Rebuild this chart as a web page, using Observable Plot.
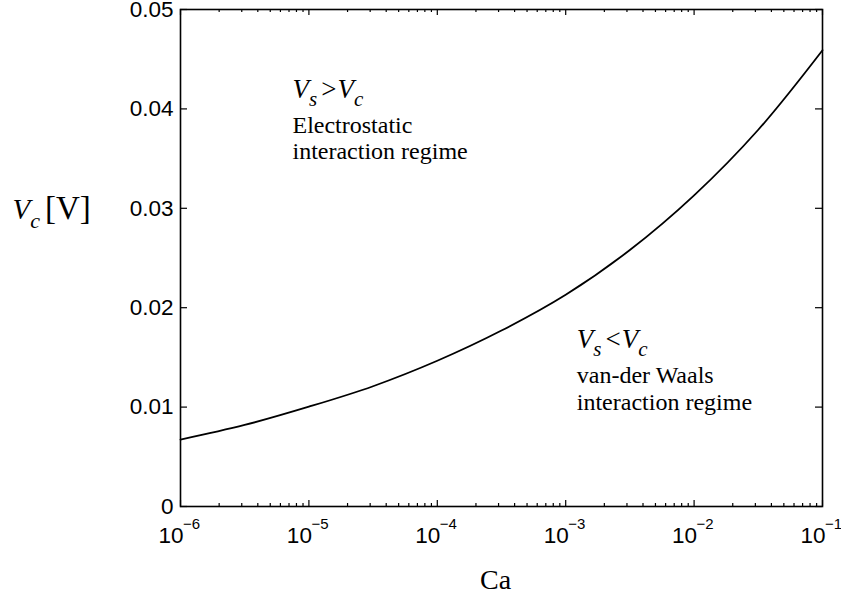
<!DOCTYPE html>
<html><head><meta charset="utf-8">
<script src="https://cdn.jsdelivr.net/npm/d3@7"></script>
<script src="https://cdn.jsdelivr.net/npm/@observablehq/plot@0.6"></script>
<style>html,body{margin:0;padding:0;background:#fff}</style>
</head><body><div id="chart"></div>
<script>
// Data
const caValues = [1e-6, 3.16e-6, 1e-5, 3.16e-5, 1e-4, 3.16e-4, 1e-3, 3.16e-3, 1e-2, 3.16e-2, 1e-1];
const vcValues = [0.00673, 0.0082, 0.01004, 0.0121, 0.01466, 0.0177, 0.0213, 0.0258, 0.0313, 0.0379, 0.0459];
const xMajorTicks = [1e-6, 1e-5, 1e-4, 1e-3, 1e-2, 1e-1];
const xTickExponents = ["\u22126", "\u22125", "\u22124", "\u22123", "\u22122", "\u22121"];
const yTicks = [0, 0.01, 0.02, 0.03, 0.04, 0.05];
const yTickLabels = ["0", "0.01", "0.02", "0.03", "0.04", "0.05"];
const xMinorTicks = [];
for (const d of xMajorTicks.slice(0, -1)) for (let k = 2; k <= 9; k++) xMinorTicks.push(k * d);

const data = caValues.map((c, i) => ({ca: c, vc: vcValues[i]}));
const SERIF = "'Liberation Serif', 'Times New Roman', serif";

const W = 841, H = 602, ML = 180, MR = 19, MT = 9, MB = 96;
const FH = H - MT - MB, FW = W - ML - MR;

const plot = Plot.plot({
  width: W, height: H,
  marginLeft: ML, marginRight: MR, marginTop: MT, marginBottom: MB,
  x: {type: "log", domain: [1e-6, 1e-1], axis: null},
  y: {domain: [0, 0.05], axis: null},
  style: {fontFamily: "'Liberation Sans', Arial, sans-serif", background: "#fff", color: "#000", overflow: "visible"},
  marks: [
    // inward ticks on all four sides
    Plot.tickX(xMinorTicks, {x: d => d, insetTop: FH - 3, stroke: "#000", strokeWidth: 1.2}),
    Plot.tickX(xMinorTicks, {x: d => d, insetBottom: FH - 3, stroke: "#000", strokeWidth: 1.2}),
    Plot.tickX(xMajorTicks, {x: d => d, insetTop: FH - 6, stroke: "#000", strokeWidth: 1.2}),
    Plot.tickX(xMajorTicks, {x: d => d, insetBottom: FH - 6, stroke: "#000", strokeWidth: 1.2}),
    Plot.tickY(yTicks, {y: d => d, insetRight: FW - 7, stroke: "#000", strokeWidth: 1.2}),
    Plot.tickY(yTicks, {y: d => d, insetLeft: FW - 7, stroke: "#000", strokeWidth: 1.2}),
    // y tick labels
    Plot.text(yTicks, {y: d => d, frameAnchor: "left", text: (d, i) => yTickLabels[i], textAnchor: "end",
      dx: -7, fontSize: 22.5}),
    // x tick labels 10^n
    Plot.text(xMajorTicks, {x: d => d, frameAnchor: "bottom", text: () => "10", textAnchor: "end",
      lineAnchor: "bottom", dx: 3, dy: 36, fontSize: 22.5}),
    Plot.text(xMajorTicks, {x: d => d, frameAnchor: "bottom", text: (d, i) => xTickExponents[i], textAnchor: "start",
      lineAnchor: "bottom", dx: 2.5, dy: 22, fontSize: 15}),
    Plot.frame({stroke: "#000", strokeWidth: 1.6}),
    Plot.line(data, {x: "ca", y: "vc", curve: "catmull-rom", stroke: "#000", strokeWidth: 1.8}),
    // annotations
    Plot.text(["VS>VC"], {x: () => 7.45e-6, y: () => 0.04106, textAnchor: "start", lineAnchor: "bottom", fontFamily: SERIF, fontSize: 27}),
    Plot.text(["Electrostatic"], {x: () => 7.45e-6, y: () => 0.03755, textAnchor: "start", lineAnchor: "bottom", fontFamily: SERIF, fontSize: 24}),
    Plot.text(["interaction regime"], {x: () => 7.45e-6, y: () => 0.03494, textAnchor: "start", lineAnchor: "bottom", fontFamily: SERIF, fontSize: 24}),
    Plot.text(["VS<VC"], {x: () => 1.22e-3, y: () => 0.01596, textAnchor: "start", lineAnchor: "bottom", fontFamily: SERIF, fontSize: 27}),
    Plot.text(["van-der Waals"], {x: () => 1.22e-3, y: () => 0.01245, textAnchor: "start", lineAnchor: "bottom", fontFamily: SERIF, fontSize: 24}),
    Plot.text(["interaction regime"], {x: () => 1.22e-3, y: () => 0.00974, textAnchor: "start", lineAnchor: "bottom", fontFamily: SERIF, fontSize: 24}),
    // axis titles
    Plot.text(["VC[V]"], {frameAnchor: "left", y: () => 0.0289, dx: -168, textAnchor: "start", lineAnchor: "bottom", fontFamily: SERIF, fontSize: 29}),
    Plot.text(["Ca"], {frameAnchor: "bottom", dx: -6, dy: 82, lineAnchor: "bottom", fontFamily: SERIF, fontSize: 28})
  ]
});

const NS = "http://www.w3.org/2000/svg";
function rich(el, parts) {
  el.textContent = "";
  for (const p of parts) {
    const t = document.createElementNS(NS, "tspan");
    t.textContent = p.t;
    if (p.italic) t.setAttribute("font-style", "italic");
    if (p.size) t.setAttribute("font-size", p.size);
    if (p.dy) t.setAttribute("dy", p.dy);
    if (p.dx) t.setAttribute("dx", p.dx);
    el.appendChild(t);
  }
}
d3.select(plot).selectAll("text").each(function() {
  const s = this.textContent;
  if (s === "VS>VC" || s === "VS<VC") {
    const op = s[2];
    rich(this, [
      {t: "V", italic: true},
      {t: "s", italic: true, size: 21, dy: 8},
      {t: op, dy: -8, dx: 4},
      {t: "V", italic: true, dx: 1},
      {t: "c", italic: true, size: 21, dy: 8}
    ]);
  } else if (s === "VC[V]") {
    rich(this, [
      {t: "V", italic: true},
      {t: "c", italic: true, size: 22, dy: 9},
      {t: "[V]", dy: -9, dx: 5, size: 33}
    ]);
  }
});
document.getElementById("chart").appendChild(plot);
</script>
</body></html>
